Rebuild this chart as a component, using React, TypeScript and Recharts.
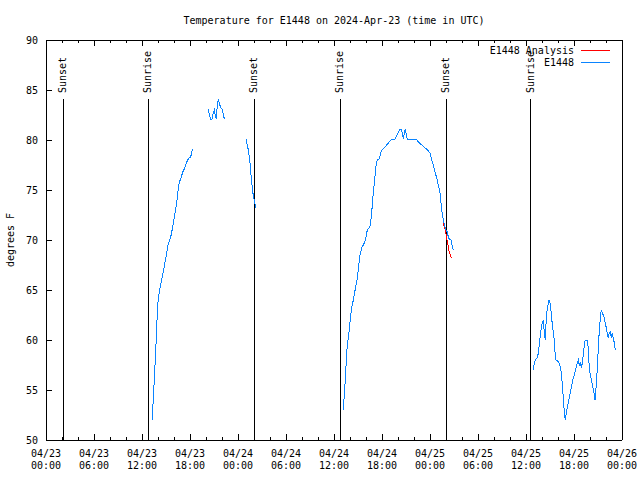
import React from 'react'
import { LineChart, Line, XAxis, YAxis, ReferenceLine } from 'recharts'

const FONT = 'DejaVu Sans Mono'
const BLUE = '#0a84ff'
const RED = '#ff0000'

// hours since 04/23 00:00 UTC, temps in degrees F
const seg1Hours = [13.29, 13.41, 13.54, 13.66, 13.79, 13.91, 14.04, 14.25, 14.5, 14.75, 15.0, 15.25, 15.59, 15.84, 16.09, 16.34, 16.46, 16.66, 16.84, 17.09, 17.34, 17.59, 17.84, 18.09, 18.29]
const seg1Temps = [52.0, 54.2, 56.0, 58.0, 60.2, 62.7, 64.2, 65.2, 66.2, 67.2, 68.3, 69.5, 70.3, 71.3, 72.5, 73.7, 74.7, 75.8, 76.1, 76.8, 77.2, 77.8, 78.2, 78.3, 79.1]

const seg2Hours = [20.29, 20.41, 20.59, 20.75, 20.91, 21.04, 21.16, 21.29, 21.41, 21.54, 21.66, 21.84, 22.04, 22.16, 22.29]
const seg2Temps = [83.1, 82.5, 82.1, 82.1, 82.7, 83.0, 82.5, 82.1, 83.5, 84.0, 83.7, 83.2, 83.1, 82.6, 82.1]

const seg3Hours = [25.0, 25.16, 25.29, 25.41, 25.5, 25.59, 25.66, 25.75, 25.84, 25.96, 26.09, 26.25]
const seg3Temps = [80.1, 79.5, 79.0, 78.3, 77.7, 76.8, 76.2, 75.5, 74.8, 74.3, 73.7, 73.2]

const seg4Hours = [37.16, 37.29, 37.41, 37.54, 37.66, 37.84, 37.96, 38.09, 38.21, 38.34, 38.46, 38.59, 38.71, 38.84, 38.96, 39.09, 39.21, 39.34, 39.5, 39.66, 39.84, 40.0, 40.16, 40.41, 40.54, 40.66, 40.79, 40.91, 41.04, 41.16, 41.29, 41.41, 41.66, 41.84, 41.96, 42.16, 42.38, 42.59, 42.79, 43.0, 43.21, 43.63, 43.84, 44.04, 44.25, 44.41, 44.59, 44.66, 44.79, 44.91, 45.04, 45.16, 45.71, 46.25, 46.54, 46.96, 47.38, 47.71, 48.0, 48.21, 48.41, 48.63, 48.84, 49.04, 49.25, 49.38, 49.5, 49.63, 49.75, 49.88, 50.0, 50.16, 50.29, 50.41, 50.63, 50.75, 50.91]
const seg4Temps = [53.0, 54.5, 56.0, 58.0, 59.5, 60.5, 61.5, 62.5, 63.2, 63.7, 64.2, 64.8, 65.3, 65.8, 66.5, 67.5, 68.3, 68.8, 69.3, 69.5, 69.8, 70.3, 71.0, 71.2, 71.5, 72.3, 73.5, 74.7, 75.7, 76.7, 77.7, 78.0, 78.1, 78.7, 79.0, 79.1, 79.3, 79.5, 79.7, 79.9, 80.1, 80.1, 80.4, 80.8, 81.1, 81.1, 80.5, 80.1, 80.7, 81.1, 80.5, 80.1, 80.1, 80.1, 79.8, 79.5, 79.2, 79.0, 78.7, 78.0, 77.5, 76.8, 76.2, 75.5, 74.7, 73.7, 72.8, 72.2, 71.7, 71.3, 71.0, 70.8, 70.3, 70.1, 70.0, 69.5, 69.0]

const seg5Hours = [60.91, 61.04, 61.16, 61.41, 61.54, 61.66, 61.79, 61.91, 62.04, 62.16, 62.29, 62.41, 62.54, 62.66, 62.88, 63.0, 63.16, 63.29, 63.5, 63.63, 63.75, 63.96, 64.13, 64.29, 64.41, 64.54, 64.66, 64.79, 64.91, 65.04, 65.16, 65.29, 65.41, 65.54, 65.66, 65.79, 65.91, 66.04, 66.16, 66.29, 66.41, 66.54, 66.66, 66.79, 66.91, 67.04, 67.16, 67.29, 67.41, 67.66, 67.79, 67.88, 68.0, 68.13, 68.25, 68.38, 68.5, 68.63, 68.71, 68.84, 68.96, 69.09, 69.21, 69.34, 69.41, 69.54, 69.66, 69.79, 69.91, 70.04, 70.16, 70.29, 70.41, 70.54, 70.66, 70.79, 70.91, 71.04, 71.16]
const seg5Temps = [57.0, 57.7, 58.0, 58.2, 58.7, 59.5, 60.5, 61.2, 61.7, 62.0, 60.7, 60.0, 62.2, 63.2, 64.0, 63.7, 62.7, 61.5, 60.2, 58.8, 58.0, 57.9, 57.7, 57.3, 56.7, 55.5, 54.3, 52.7, 52.0, 52.7, 53.2, 53.7, 54.2, 54.7, 55.2, 55.7, 56.2, 56.5, 56.9, 57.3, 57.7, 58.0, 57.5, 57.8, 57.2, 57.7, 58.5, 59.5, 60.0, 60.0, 59.2, 57.7, 56.7, 56.2, 55.7, 55.2, 54.7, 54.0, 54.7, 56.2, 58.0, 60.0, 61.5, 62.5, 63.0, 62.7, 62.5, 62.2, 61.7, 61.2, 60.7, 60.2, 60.7, 60.8, 60.2, 60.7, 60.2, 59.7, 59.0]

const analysisHours = [49.66, 49.91, 50.09, 50.25, 50.41, 50.66]
const analysisTemps = [71.7, 71.0, 70.2, 69.5, 68.8, 68.2]

const sunHours = [2.13, 12.75, 26.0, 36.75, 50.0, 60.6]
const sunLabels = ['Sunset', 'Sunrise', 'Sunset', 'Sunrise', 'Sunset', 'Sunrise']

const xTicks = Array.from({ length: 37 }, (_, i) => i * 2)
const yTicks = [50, 55, 60, 65, 70, 75, 80, 85, 90]

const segments = [
  [seg1Hours, seg1Temps],
  [seg2Hours, seg2Temps],
  [seg3Hours, seg3Temps],
  [seg4Hours, seg4Temps],
  [seg5Hours, seg5Temps],
]

const obsData: { h: number; t: number | null }[] = []
segments.forEach(([hs, ts], i) => {
  if (i > 0) obsData.push({ h: (obsData[obsData.length - 1].h + hs[0]) / 2, t: null })
  hs.forEach((h, j) => obsData.push({ h, t: ts[j] }))
})
const analysisData = analysisHours.map((h, i) => ({ h, t: analysisTemps[i] }))

const pad = (n: number) => String(n).padStart(2, '0')

const BottomTick = ({ x, y, payload }: any) => {
  const h = payload.value
  const major = h % 6 === 0
  return (
    <g>
      <line x1={x} y1={y} x2={x} y2={y - (major ? 6 : 3)} stroke="#000" shapeRendering="crispEdges" />
      {major && (
        <text x={x} y={y + 17} textAnchor="middle" fontFamily={FONT} fontSize={10} fill="#000">
          <tspan x={x}>{`04/${23 + Math.floor(h / 24)}`}</tspan>
          <tspan x={x} dy={12}>{`${pad(h % 24)}:00`}</tspan>
        </text>
      )}
    </g>
  )
}

const TopTick = ({ x, y, payload }: any) => {
  const major = payload.value % 6 === 0
  return <line x1={x} y1={y} x2={x} y2={y + (major ? 6 : 3)} stroke="#000" shapeRendering="crispEdges" />
}

const LeftTick = ({ x, y, payload }: any) => (
  <g>
    <line x1={x} y1={y} x2={x + 6} y2={y} stroke="#000" shapeRendering="crispEdges" />
    <text x={x - 8} y={y + 4} textAnchor="end" fontFamily={FONT} fontSize={10} fill="#000">
      {payload.value}
    </text>
  </g>
)

const RightTick = ({ x, y }: any) => (
  <line x1={x} y1={y} x2={x - 6} y2={y} stroke="#000" shapeRendering="crispEdges" />
)

const sunLabel = (text: string) => (props: any) => {
  const { x, y } = props.viewBox
  return (
    <text
      x={x + 3}
      y={y - 6}
      transform={`rotate(-90, ${x + 3}, ${y - 6})`}
      fontFamily={FONT}
      fontSize={10}
      fill="#000"
    >
      {text}
    </text>
  )
}

export default function App() {
  return (
    <div style={{ position: 'absolute', left: 0, top: 0 }}>
      <LineChart width={640} height={480} data={obsData} margin={{ top: 30, right: 8, bottom: 10, left: 6 }}>
        <XAxis
          dataKey="h"
          type="number"
          domain={[0, 72]}
          ticks={xTicks}
          interval={0}
          height={30}
          tickSize={0}
          tickMargin={0}
          tick={<BottomTick />}
          axisLine={{ stroke: '#000', shapeRendering: 'crispEdges' }}
          tickLine={false}
        />
        <XAxis
          xAxisId="top"
          orientation="top"
          dataKey="h"
          type="number"
          domain={[0, 72]}
          ticks={xTicks}
          interval={0}
          height={10}
          tickSize={0}
          tickMargin={0}
          tick={<TopTick />}
          axisLine={{ stroke: '#000', shapeRendering: 'crispEdges' }}
          tickLine={false}
        />
        <YAxis
          type="number"
          domain={[50, 90]}
          ticks={yTicks}
          interval={0}
          width={40}
          tickSize={0}
          tickMargin={0}
          tick={<LeftTick />}
          axisLine={{ stroke: '#000', shapeRendering: 'crispEdges' }}
          tickLine={false}
        />
        <YAxis
          yAxisId="right"
          orientation="right"
          type="number"
          domain={[50, 90]}
          ticks={yTicks}
          interval={0}
          width={10}
          tickSize={0}
          tickMargin={0}
          tick={<RightTick />}
          axisLine={{ stroke: '#000', shapeRendering: 'crispEdges' }}
          tickLine={false}
        />
        {sunHours.map((h, i) => (
          <ReferenceLine
            key={i}
            segment={[{ x: h, y: 84.1 }, { x: h, y: 50 }]}
            stroke="#000"
            strokeWidth={1}
            shapeRendering="crispEdges"
            label={sunLabel(sunLabels[i])}
          />
        ))}
        <Line
          data={analysisData}
          dataKey="t"
          type="linear"
          stroke={RED}
          strokeWidth={1}
          shapeRendering="crispEdges"
          dot={false}
          activeDot={false}
          isAnimationActive={false}
        />
        <Line
          dataKey="t"
          type="linear"
          stroke={BLUE}
          strokeWidth={1}
          shapeRendering="crispEdges"
          dot={false}
          activeDot={false}
          connectNulls={false}
          isAnimationActive={false}
        />
        <g fontFamily={FONT} fontSize={10} fill="#000">
          <text x={334} y={24} textAnchor="middle">
            Temperature for E1448 on 2024-Apr-23 (time in UTC)
          </text>
          <text x={14} y={240} textAnchor="middle" transform="rotate(-90, 14, 240)">
            degrees F
          </text>
          <text x={574} y={54} textAnchor="end">E1448 Analysis</text>
          <line x1={581} y1={50} x2={610} y2={50} stroke={RED} shapeRendering="crispEdges" />
          <text x={574} y={66} textAnchor="end">E1448</text>
          <line x1={581} y1={62} x2={610} y2={62} stroke={BLUE} shapeRendering="crispEdges" />
        </g>
      </LineChart>
    </div>
  )
}
